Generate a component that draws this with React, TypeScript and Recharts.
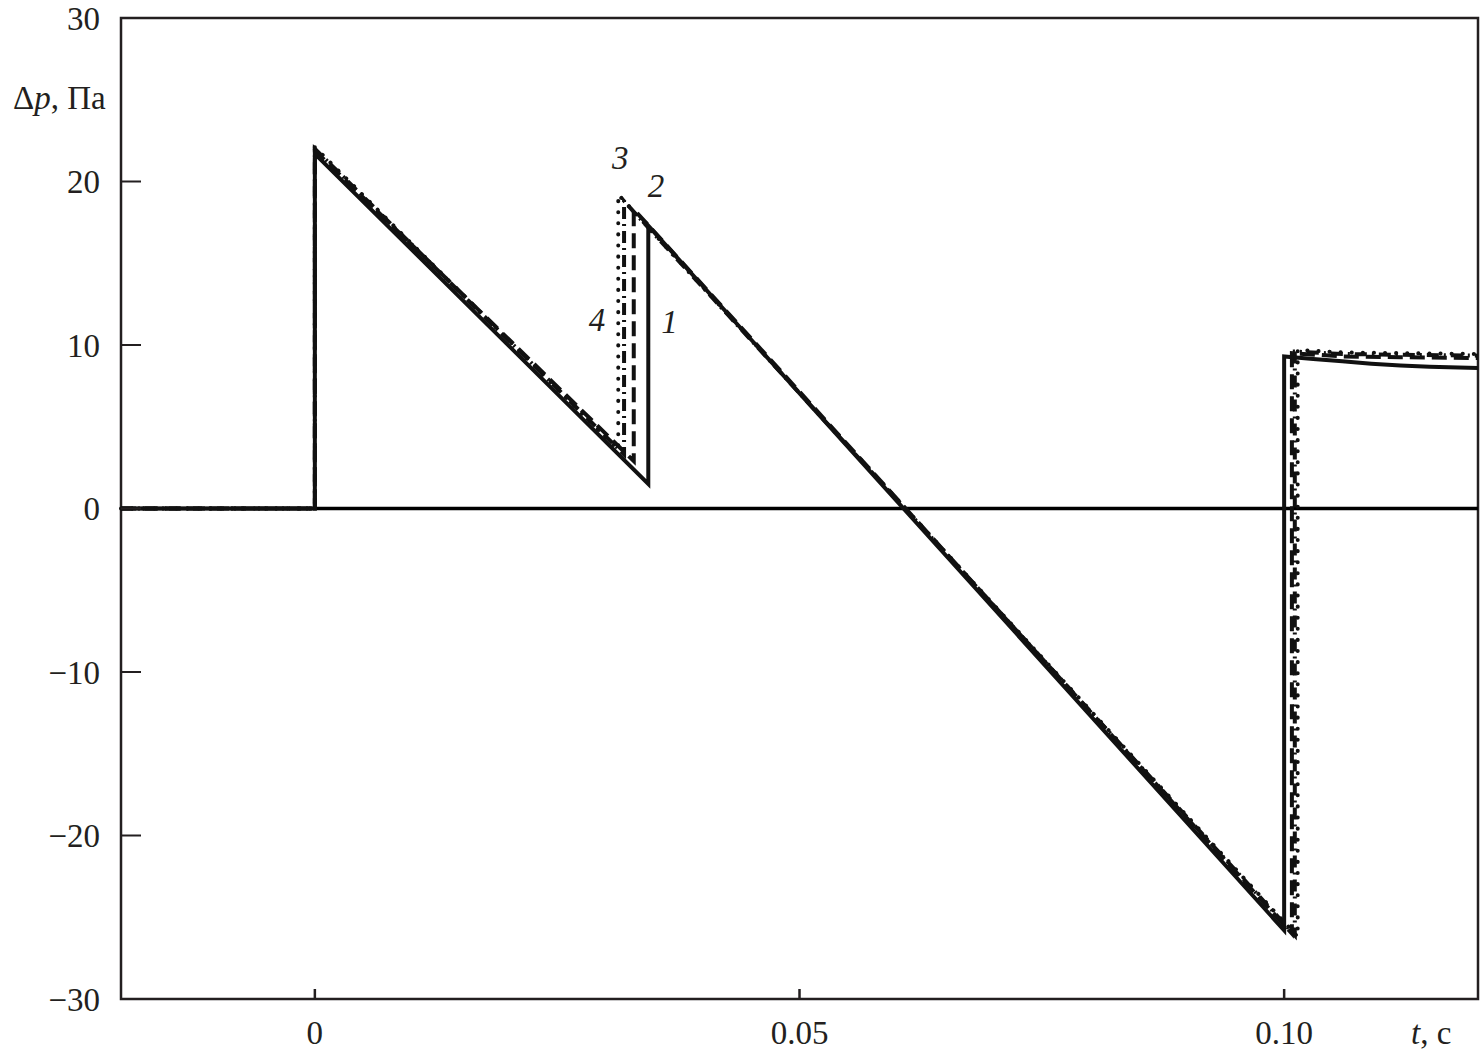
import React from "react";
import {
  LineChart,
  Line,
  XAxis,
  YAxis,
  ReferenceLine,
  ReferenceArea,
  ReferenceDot,
  Label,
} from "recharts";

// time (s) and pressure difference (Pa) for the four curves
const t1 = [-0.02, 0, 0, 0.0344, 0.0344, 0.1, 0.1, 0.103, 0.106, 0.109, 0.112, 0.115, 0.12];
const p1 = [0, 0, 21.7, 1.5, 17.3, -25.8, 9.3, 9.15, 9.0, 8.86, 8.75, 8.67, 8.6];

const t2 = [-0.02, 0, 0, 0.0329, 0.0329, 0.1008, 0.1008, 0.106, 0.112, 0.12];
const p2 = [0, 0, 21.9, 2.9, 18.3, -26.0, 9.5, 9.3, 9.25, 9.2];

const t3 = [-0.02, 0, 0, 0.0313, 0.0313, 0.1014, 0.1014, 0.106, 0.112, 0.12];
const p3 = [0, 0, 22.1, 3.6, 19.2, -26.2, 9.7, 9.55, 9.5, 9.45];

const t4 = [-0.02, 0, 0, 0.0319, 0.0319, 0.1011, 0.1011, 0.106, 0.112, 0.12];
const p4 = [0, 0, 22.0, 3.3, 18.8, -26.1, 9.6, 9.45, 9.4, 9.35];

const xTicks = [0, 0.05, 0.1];
const xTickLabels = ["0", "0.05", "0.10"];
const yTicks = [-30, -20, -10, 0, 10, 20, 30];

// curve numbers placed next to the jumps
const curveLabels = [
  { name: "3", t: 0.0315, p: 21.5 },
  { name: "2", t: 0.0352, p: 19.75 },
  { name: "4", t: 0.0291, p: 11.55 },
  { name: "1", t: 0.0366, p: 11.45 },
];

const toRows = (ts: number[], ps: number[]) => ts.map((t, i) => ({ t, p: ps[i] }));

const FONT = "'Liberation Serif', 'DejaVu Serif', serif";
const FS = 33;
const INK = "#231f20";

const YTick = (props: any) => {
  const { x, y, payload } = props;
  const v = payload.value;
  const txt = v < 0 ? "\u2212" + Math.abs(v) : String(v);
  return (
    <g>
      <line x1={x} x2={x + 20} y1={y} y2={y} stroke={INK} strokeWidth={2} />
      <text x={x - 21} y={y} dy="0.35em" textAnchor="end" fontFamily={FONT} fontSize={FS} fill={INK}>
        {txt}
      </text>
    </g>
  );
};

const XTick = (props: any) => {
  const { x, y, payload } = props;
  const idx = xTicks.indexOf(payload.value);
  return (
    <g>
      <line x1={x} x2={x} y1={y} y2={y - 10} stroke={INK} strokeWidth={2.5} />
      <text x={x} y={y + 33} dy="0.35em" textAnchor="middle" fontFamily={FONT} fontSize={FS} fill={INK}>
        {idx >= 0 ? xTickLabels[idx] : payload.value}
      </text>
    </g>
  );
};

export default function App() {
  return (
    <div style={{ position: "absolute", left: 0, top: 0, background: "#fff" }}>
      <LineChart width={1481} height={1054} margin={{ top: 18, right: 3, bottom: 0, left: 0 }}>
        <XAxis
          dataKey="t"
          type="number"
          domain={[-0.02, 0.12]}
          ticks={xTicks}
          tick={<XTick />}
          tickSize={0}
          tickMargin={0}
          tickLine={false}
          axisLine={false}
          height={55}
          allowDuplicatedCategory={false}
        >
          <Label
            content={() => (
              <text x={1411} y={1032} dy="0.35em" fontFamily={FONT} fontSize={FS} fill={INK}>
                <tspan fontStyle="italic">t</tspan>
                <tspan>, с</tspan>
              </text>
            )}
          />
        </XAxis>
        <YAxis
          type="number"
          domain={[-30, 30]}
          ticks={yTicks}
          tick={<YTick />}
          tickSize={0}
          tickMargin={0}
          tickLine={false}
          axisLine={false}
          width={121}
        >
          <Label
            content={() => (
              <text x={13} y={97} dy="0.35em" fontFamily={FONT} fontSize={FS} fill={INK}>
                <tspan>Δ</tspan>
                <tspan fontStyle="italic">p</tspan>
                <tspan>, Па</tspan>
              </text>
            )}
          />
        </YAxis>
        <ReferenceArea x1={-0.02} x2={0.12} y1={-30} y2={30} fill="none" stroke={INK} strokeWidth={2.5} />
        <ReferenceLine y={0} stroke="#000" strokeWidth={3.5} />
        <Line
          data={toRows(t3, p3)}
          dataKey="p"
          type="linear"
          stroke="#111"
          strokeWidth={4}
          strokeDasharray="0.1 11"
          strokeLinecap="round"
          dot={false}
          isAnimationActive={false}
        />
        <Line
          data={toRows(t4, p4)}
          dataKey="p"
          type="linear"
          stroke="#111"
          strokeWidth={4}
          strokeDasharray="12 5 2 5"
          dot={false}
          isAnimationActive={false}
        />
        <Line
          data={toRows(t2, p2)}
          dataKey="p"
          type="linear"
          stroke="#111"
          strokeWidth={4}
          strokeDasharray="15 7"
          dot={false}
          isAnimationActive={false}
        />
        <Line
          data={toRows(t1, p1)}
          dataKey="p"
          type="linear"
          stroke="#111"
          strokeWidth={4}
          dot={false}
          isAnimationActive={false}
        />
        {curveLabels.map((c) => (
          <ReferenceDot
            key={c.name}
            x={c.t}
            y={c.p}
            r={0}
            fill="none"
            stroke="none"
            label={{
              value: c.name,
              position: "center",
              fontFamily: FONT,
              fontSize: FS,
              fontStyle: "italic",
              fill: INK,
            }}
          />
        ))}
      </LineChart>
    </div>
  );
}
